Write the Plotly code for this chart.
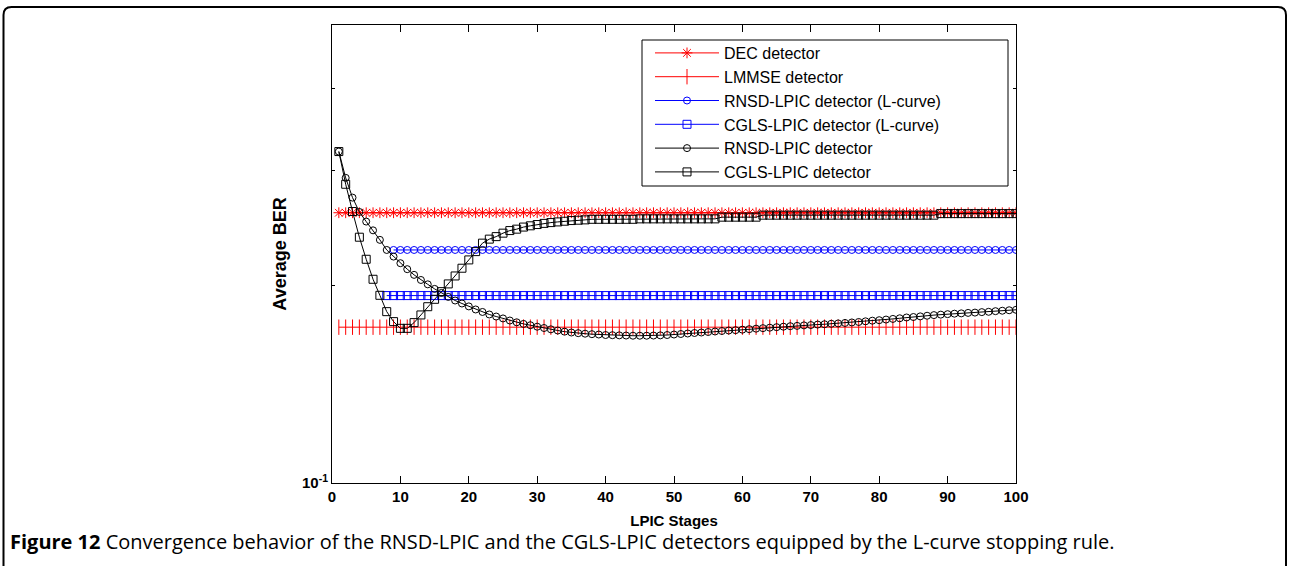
import plotly.graph_objects as go

# ---------------- data ----------------
stages = list(range(1, 101))

dec_ber = [0.2585] * 100
lmmse_ber = [0.1729] * 100

rnsd_lcurve_stages = list(range(9, 101))
rnsd_lcurve_ber = [0.2268] * len(rnsd_lcurve_stages)

cgls_lcurve_stages = list(range(8, 101))
cgls_lcurve_ber = [0.1932] * len(cgls_lcurve_stages)

rnsd_ber = [
    0.3205, 0.2922, 0.2726, 0.2592, 0.2506, 0.2430, 0.2350, 0.2268, 0.2216, 0.2165,
    0.2120, 0.2078, 0.2041, 0.2010, 0.1978, 0.1950, 0.1923, 0.1899, 0.1879, 0.1860,
    0.1840, 0.1824, 0.1808, 0.1795, 0.1783, 0.1770, 0.1759, 0.1749, 0.1741, 0.1732,
    0.1724, 0.1716, 0.1709, 0.1702, 0.1697, 0.1693, 0.1690, 0.1687, 0.1685, 0.1682,
    0.1681, 0.1680, 0.1679, 0.1678, 0.1678, 0.1678, 0.1679, 0.1680, 0.1682, 0.1685,
    0.1688, 0.1691, 0.1694, 0.1697, 0.1700, 0.1703, 0.1706, 0.1709, 0.1711, 0.1714,
    0.1717, 0.1720, 0.1723, 0.1726, 0.1729, 0.1732, 0.1735, 0.1737, 0.1740, 0.1742,
    0.1745, 0.1747, 0.1750, 0.1752, 0.1755, 0.1758, 0.1761, 0.1765, 0.1769, 0.1772,
    0.1776, 0.1780, 0.1784, 0.1789, 0.1792, 0.1796, 0.1800, 0.1804, 0.1807, 0.1810,
    0.1813, 0.1815, 0.1818, 0.1820, 0.1823, 0.1825, 0.1829, 0.1832, 0.1835, 0.1838,
]

cgls_ber = [
    0.3205, 0.2857, 0.2596, 0.2372, 0.2195, 0.2046, 0.1934, 0.1826, 0.1763, 0.1722,
    0.1722, 0.1757, 0.1805, 0.1858, 0.1907, 0.1959, 0.2013, 0.2070, 0.2127, 0.2190,
    0.2255, 0.2323, 0.2356, 0.2377, 0.2406, 0.2428, 0.2440, 0.2458, 0.2469, 0.2480,
    0.2490, 0.2497, 0.2503, 0.2509, 0.2515, 0.2518, 0.2521, 0.2526, 0.2526, 0.2526,
    0.2526, 0.2526, 0.2526, 0.2526, 0.2530, 0.2530, 0.2530, 0.2530, 0.2530, 0.2530,
    0.2530, 0.2530, 0.2530, 0.2530, 0.2530, 0.2530, 0.2545, 0.2545, 0.2545, 0.2545,
    0.2545, 0.2545, 0.2563, 0.2563, 0.2563, 0.2563, 0.2563, 0.2563, 0.2563, 0.2563,
    0.2563, 0.2563, 0.2563, 0.2563, 0.2563, 0.2563, 0.2563, 0.2563, 0.2563, 0.2563,
    0.2563, 0.2563, 0.2563, 0.2563, 0.2563, 0.2563, 0.2563, 0.2563, 0.2577, 0.2577,
    0.2577, 0.2577, 0.2577, 0.2577, 0.2577, 0.2577, 0.2577, 0.2577, 0.2577, 0.2577,
]

x_ticks = [0, 10, 20, 30, 40, 50, 60, 70, 80, 90, 100]
y_major_ticks = [0.1]
y_major_text = ["10<sup>-1</sup>"]
y_minor_ticks = [0.2, 0.3, 0.4]

caption = ("<b>Figure 12</b> Convergence behavior of the RNSD-LPIC and the CGLS-LPIC "
           "detectors equipped by the L-curve stopping rule.")

# ---------------- layout helpers ----------------
W, H = 1290, 566
ML, MR, MT, MB = 332, 274, 25, 83
PW, PH = W - ML - MR, H - MT - MB


def px(x):
    return (x - ML) / PW


def py(y):
    return (H - MB - y) / PH


FONT = "Liberation Sans, Arial, sans-serif"

fig = go.Figure()

series = [
    ("DEC detector", stages, dec_ber, "red", "asterisk-open", 9),
    ("LMMSE detector", stages, lmmse_ber, "red", "line-ns-open", 11),
    ("RNSD-LPIC detector (L-curve)", rnsd_lcurve_stages, rnsd_lcurve_ber, "blue", "circle-open", 7),
    ("CGLS-LPIC detector (L-curve)", cgls_lcurve_stages, cgls_lcurve_ber, "blue", "square-open", 8),
    ("RNSD-LPIC detector", stages, rnsd_ber, "black", "circle-open", 7),
    ("CGLS-LPIC detector", stages, cgls_ber, "black", "square-open", 8),
]

for i, (name, xs, ys, col, sym, sz) in enumerate(series):
    fig.add_trace(go.Scatter(
        x=xs, y=ys, name=name, mode="lines+markers",
        line=dict(color=col, width=1),
        marker=dict(symbol=sym, size=sz, color=col, line=dict(color=col, width=1)),
        legendgroup=f"g{i}",
    ))

fig.update_layout(
    width=W, height=H,
    margin=dict(l=ML, r=MR, t=MT, b=MB, pad=0),
    paper_bgcolor="white", plot_bgcolor="white",
    font=dict(family=FONT, color="black"),
    showlegend=True,
    legend=dict(
        x=px(650), y=py(36), xanchor="left", yanchor="top",
        bgcolor="rgba(0,0,0,0)", borderwidth=0,
        font=dict(family=FONT, size=16, color="black"),
        itemwidth=64, tracegroupgap=0,
    ),
    xaxis=dict(
        range=[0, 100], tickvals=x_ticks, ticks="inside", ticklen=7,
        tickcolor="black", showline=True, linecolor="black", linewidth=1,
        mirror="ticks", showgrid=False, zeroline=False,
        tickfont=dict(family=FONT, size=15, weight="bold"),
        title=dict(text="LPIC Stages", standoff=11,
                   font=dict(family=FONT, size=15, weight="bold")),
    ),
    yaxis=dict(
        type="log", range=[-1, -0.30103], tickvals=y_major_ticks, ticktext=y_major_text,
        ticks="inside", ticklen=3, tickcolor="black", showline=True,
        linecolor="black", linewidth=1, mirror="ticks", showgrid=False,
        zeroline=False,
        minor=dict(tickvals=y_minor_ticks, ticks="inside", ticklen=3,
                   tickcolor="black", showgrid=False),
        tickfont=dict(family=FONT, size=15, weight="bold"),
        title=dict(text="Average BER", standoff=10,
                   font=dict(family=FONT, size=18, weight="bold")),
    ),
    shapes=[
        # legend box
        dict(type="rect", xref="paper", yref="paper",
             x0=px(642), x1=px(1008), y0=py(186), y1=py(40),
             line=dict(color="black", width=1), fillcolor="rgba(0,0,0,0)", layer="above"),
        # outer frame with rounded top corners
        dict(type="path", xref="paper", yref="paper",
             path=(f"M {px(3.5)} {py(600)} L {px(3.5)} {py(15)} "
                   f"Q {px(3.5)} {py(7)} {px(11.5)} {py(7)} "
                   f"L {px(1278)} {py(7)} "
                   f"Q {px(1286)} {py(7)} {px(1286)} {py(15)} "
                   f"L {px(1286)} {py(600)}"),
             line=dict(color="black", width=2)),
    ],
    annotations=[
        dict(text=caption, xref="paper", yref="paper", x=px(8), y=py(541),
             xanchor="left", yanchor="middle", showarrow=False,
             font=dict(family="Open Sans, sans-serif", size=20, color="black")),
    ],
)

fig.write_html("out.html")
